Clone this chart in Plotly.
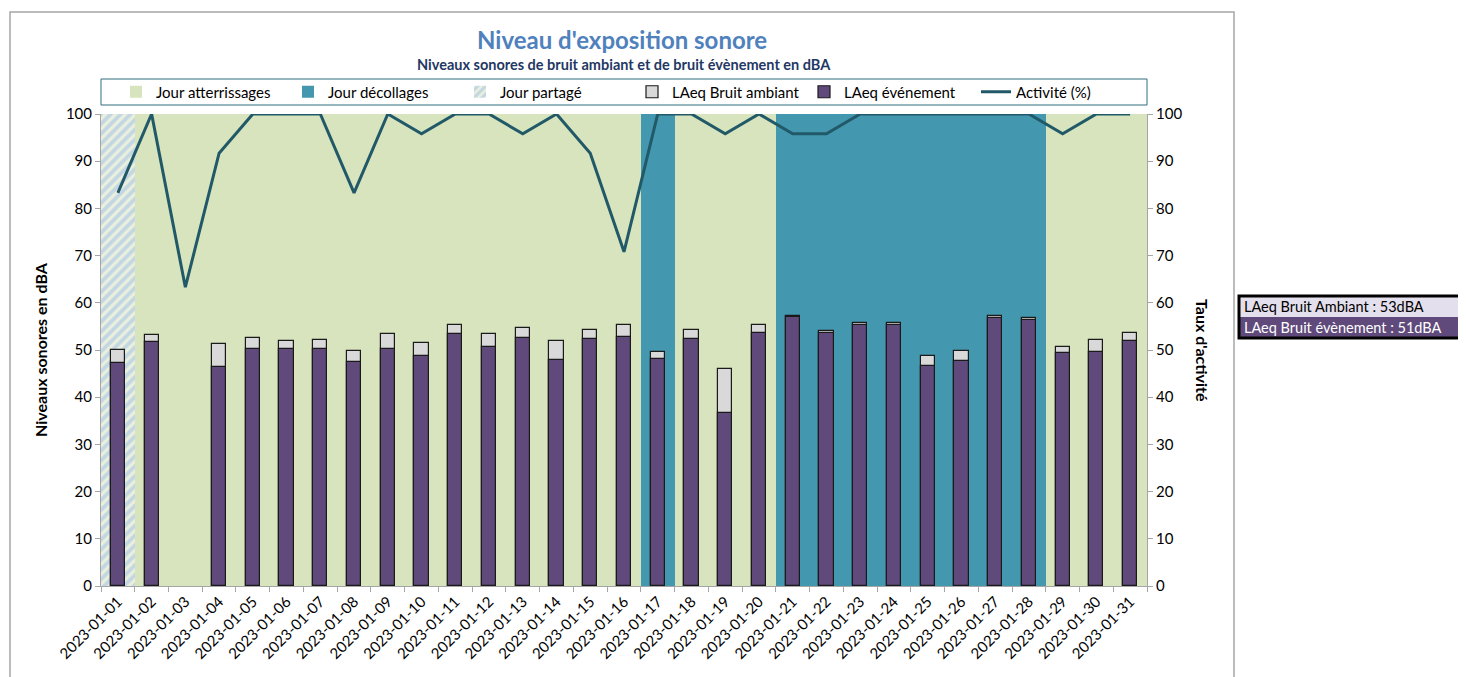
import plotly.graph_objects as go

dates = [f"2023-01-{d:02d}" for d in range(1, 32)]

# Day type: A = atterrissages, D = décollages, P = partagé
day_type = ["P"] + ["A"] * 15 + ["D"] + ["A"] * 3 + ["D"] * 8 + ["A"] * 3

laeq_ambiant = [50.0, 53.2, None, 51.3, 52.5, 51.9, 52.1, 49.8, 53.3, 51.5,
                55.2, 53.3, 54.7, 51.9, 54.2, 55.2, 49.5, 54.3, 46.0, 55.2,
                57.1, 54.0, 55.8, 55.7, 48.7, 49.8, 57.1, 56.7, 50.6, 52.1, 53.7]
laeq_evenement = [47.2, 51.7, None, 46.4, 50.2, 50.2, 50.2, 47.5, 50.3, 48.7,
                  53.3, 50.6, 52.6, 47.9, 52.3, 52.8, 48.1, 52.3, 36.7, 53.7,
                  56.9, 53.6, 55.4, 55.4, 46.6, 47.6, 56.7, 56.3, 49.4, 49.5, 52.0]
activite = [83.3, 100, 63.3, 91.7, 100, 100, 100, 83.3, 100, 95.8,
            100, 100, 95.8, 100, 91.7, 70.8, 100, 100, 95.8, 100,
            95.8, 95.8, 100, 100, 100, 100, 100, 100, 95.8, 100, 100]

summary_labels = ["LAeq Bruit Ambiant : 53dBA", "LAeq Bruit évènement : 51dBA"]

FONT = "Lato"
C_ATT = "#D7E4BD"
C_DEC = "#4398B0"
C_AMB = "#D9D9D9"
C_EVT = "#604A7B"
C_LINE = "#215968"

fig = go.Figure()

def bg(kind):
    return [100 if t == kind else None for t in day_type]

fig.add_trace(go.Bar(x=dates, y=bg("A"), name="Jour atterrissages", width=1,
                     marker=dict(color=C_ATT, line=dict(width=0)), yaxis="y"))
fig.add_trace(go.Bar(x=dates, y=bg("D"), name="Jour décollages", width=1,
                     marker=dict(color=C_DEC, line=dict(width=0)), yaxis="y"))
fig.add_trace(go.Bar(x=dates, y=bg("P"), name="Jour partagé", width=1,
                     marker=dict(color="#EAF0DD", line=dict(width=0),
                                 pattern=dict(shape="/", fgcolor="#9CBDEA", bgcolor="#EAF0DD",
                                              size=7, solidity=0.55)), yaxis="y"))
fig.add_trace(go.Bar(x=dates, y=laeq_ambiant, name="LAeq Bruit ambiant", width=0.42,
                     marker=dict(color=C_AMB, line=dict(color="#1a1a1a", width=1.2)), yaxis="y"))
fig.add_trace(go.Bar(x=dates, y=laeq_evenement, name="LAeq événement", width=0.42,
                     marker=dict(color=C_EVT, line=dict(color="#1a1a1a", width=1.2)), yaxis="y"))
fig.add_trace(go.Scatter(x=dates, y=activite, name="Activité (%)", mode="lines",
                         line=dict(color=C_LINE, width=3), yaxis="y2"))

# page body has an 8px margin: figure coordinates = screen - 8
OFF = 8
W, H = 1466 - OFF, 677 - OFF
L, R, T, B = 101, 1147, 114, 586          # plot area in screen pixels
pw, ph = R - L, B - T

def px(x):
    return (x - L) / pw

def py(y):
    return (B - y) / ph

shapes = [
    # outer chart border
    dict(type="rect", xref="paper", yref="paper", x0=px(10), x1=px(1234), y0=py(700), y1=py(12),
         line=dict(color="#A6A6A6", width=1.5), fillcolor="rgba(0,0,0,0)", layer="below"),
    # legend box
    dict(type="rect", xref="paper", yref="paper", x0=px(101), x1=px(1147), y0=py(105), y1=py(79),
         line=dict(color="#2E6E7E", width=1), fillcolor="white", layer="below"),
    # summary box rows
    dict(type="rect", xref="paper", yref="paper", x0=px(1239), x1=px(1466), y0=py(317), y1=py(296),
         line=dict(width=0), fillcolor="#E4DFEC"),
    dict(type="rect", xref="paper", yref="paper", x0=px(1239), x1=px(1466), y0=py(338), y1=py(317),
         line=dict(width=0), fillcolor=C_EVT),
    dict(type="rect", xref="paper", yref="paper", x0=px(1239), x1=px(1465), y0=py(338), y1=py(296),
         line=dict(color="black", width=3), fillcolor="rgba(0,0,0,0)"),
]

annotations = [
    dict(text="<b>Niveau d'exposition sonore</b>", x=px(622), y=py(40), xref="paper", yref="paper",
         showarrow=False, font=dict(family=FONT, size=24, color="#4F81BD"), xanchor="center", yanchor="middle"),
    dict(text="<b>Niveaux sonores de bruit ambiant et de bruit évènement en dBA</b>", x=px(624), y=py(64),
         xref="paper", yref="paper", showarrow=False, font=dict(family=FONT, size=14.5, color="#1F3864"),
         xanchor="center", yanchor="middle"),
    dict(text="<b>Niveaux sonores en dBA</b>", x=px(40), y=py(350), xref="paper", yref="paper",
         showarrow=False, textangle=-90, font=dict(family=FONT, size=16, color="black"),
         xanchor="center", yanchor="middle"),
    dict(text="<b>Taux d'activité</b>", x=px(1203), y=py(350), xref="paper", yref="paper",
         showarrow=False, textangle=90, font=dict(family=FONT, size=16, color="black"),
         xanchor="center", yanchor="middle"),
    dict(text=summary_labels[0], x=px(1242), y=py(306.5), xref="paper", yref="paper", showarrow=False,
         font=dict(family=FONT, size=14.5, color="black"), xanchor="left", yanchor="middle"),
    dict(text=summary_labels[1], x=px(1242), y=py(327.5), xref="paper", yref="paper", showarrow=False,
         font=dict(family=FONT, size=14.5, color="white"), xanchor="left", yanchor="middle"),
]

fig.update_layout(
    width=W, height=H,
    margin=dict(l=L - OFF, r=1466 - R, t=T - OFF, b=677 - B, autoexpand=False),
    paper_bgcolor="white", plot_bgcolor="white",
    barmode="overlay", bargap=0,
    font=dict(family=FONT, size=15, color="black"),
    showlegend=True,
    legend=dict(orientation="h", x=px(116), xanchor="left", y=py(92), yanchor="middle",
                bgcolor="rgba(0,0,0,0)", borderwidth=0, font=dict(family=FONT, size=15, color="black"),
                entrywidth=127, entrywidthmode="pixels", itemwidth=30, traceorder="normal"),
    xaxis=dict(type="category", tickangle=-45, tickson="boundaries", ticks="outside", ticklen=5,
               tickcolor="#A6A6A6", showline=True, linecolor="#A6A6A6", linewidth=1, showgrid=False,
               automargin=False, tickfont=dict(family=FONT, size=15, color="black"), range=[-0.5, 30.5]),
    yaxis=dict(range=[0, 100], dtick=10, ticks="outside", ticklen=5, tickcolor="#A6A6A6",
               showline=True, linecolor="#A6A6A6", linewidth=1, showgrid=False, zeroline=False,
               automargin=False, tickfont=dict(family=FONT, size=15, color="black")),
    yaxis2=dict(range=[0, 100], dtick=10, overlaying="y", side="right", ticks="outside", ticklen=5,
                tickcolor="#A6A6A6", showline=True, linecolor="#A6A6A6", linewidth=1, showgrid=False,
                zeroline=False, automargin=False, tickfont=dict(family=FONT, size=15, color="black")),
    shapes=shapes, annotations=annotations,
)

fig.write_html("out.html")
